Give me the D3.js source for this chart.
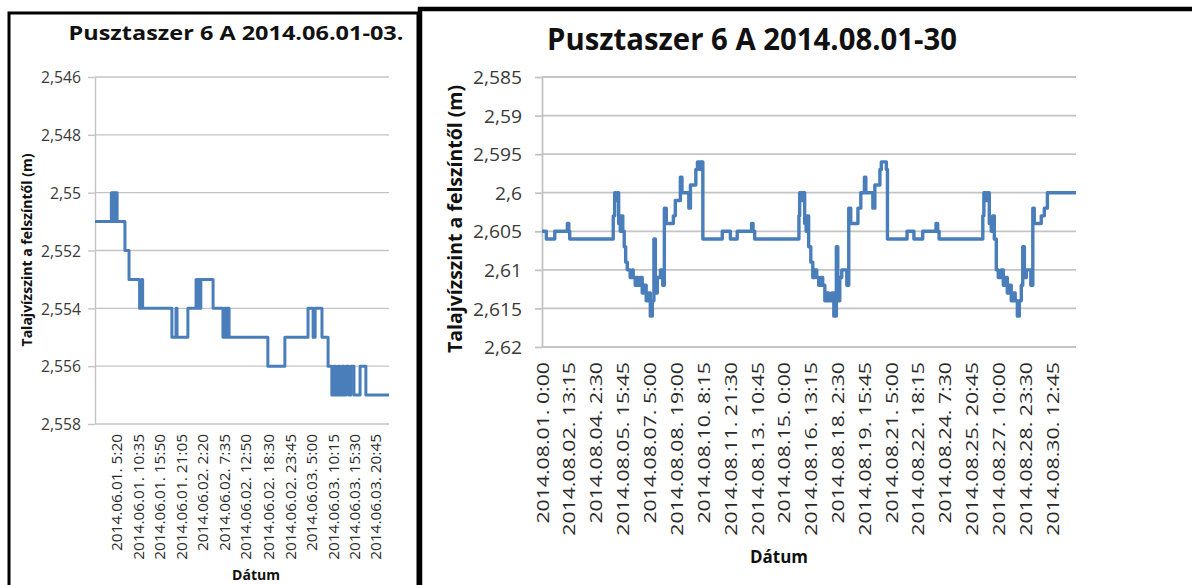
<!DOCTYPE html>
<html>
<head>
<meta charset="utf-8">
<script src="https://cdn.jsdelivr.net/npm/d3@7"></script>
<style>
  body { margin: 0; background: #fff; }
  svg { display: block; }
</style>
</head>
<body>
<svg id="chart" width="1192" height="585"></svg>
<script>
// ---- data -------------------------------------------------------------
const yTitle = "Talajvízszint a felszíntől (m)";
const xTitle = "Dátum";

// June (5 min logger, only the level changes are kept)
const juneTitle = "Pusztaszer 6 A 2014.06.01-03.";
const juneRange = ["2014.06.01 00:00", "2014.06.04 00:00"];
const juneTimes = [
  "2014.06.01 00:00", "2014.06.01 04:00", "2014.06.01 04:15", "2014.06.01 04:30", "2014.06.01 04:55",
  "2014.06.01 05:10", "2014.06.01 05:25", "2014.06.01 07:20", "2014.06.01 08:20", "2014.06.01 10:55",
  "2014.06.01 11:25", "2014.06.01 11:40", "2014.06.01 18:50", "2014.06.01 19:50", "2014.06.01 20:05",
  "2014.06.01 22:45", "2014.06.02 00:45", "2014.06.02 01:00", "2014.06.02 01:20", "2014.06.02 01:35",
  "2014.06.02 01:55", "2014.06.02 04:55", "2014.06.02 07:20", "2014.06.02 07:45", "2014.06.02 08:05",
  "2014.06.02 08:20", "2014.06.02 08:50", "2014.06.02 18:20", "2014.06.02 22:30", "2014.06.03 04:10",
  "2014.06.03 05:25", "2014.06.03 05:55", "2014.06.03 07:35", "2014.06.03 09:05", "2014.06.03 10:00",
  "2014.06.03 10:30", "2014.06.03 11:00", "2014.06.03 11:30", "2014.06.03 12:00", "2014.06.03 12:30",
  "2014.06.03 13:00", "2014.06.03 13:30", "2014.06.03 14:10", "2014.06.03 14:40", "2014.06.03 15:25",
  "2014.06.03 16:55", "2014.06.03 18:20", "2014.06.04 00:00"
];
const juneLevels = [
  2.551, 2.550, 2.551, 2.550, 2.551,
  2.550, 2.551, 2.552, 2.553, 2.554,
  2.553, 2.554, 2.555, 2.554, 2.555,
  2.554, 2.553, 2.554, 2.553, 2.554,
  2.553, 2.554, 2.555, 2.554, 2.555,
  2.554, 2.555, 2.556, 2.555, 2.554,
  2.555, 2.554, 2.555, 2.556, 2.557,
  2.556, 2.557, 2.556, 2.557, 2.556,
  2.557, 2.556, 2.557, 2.556, 2.557,
  2.556, 2.557, 2.557
];
const juneYTicks = [2.546, 2.548, 2.550, 2.552, 2.554, 2.556, 2.558];
const juneXLabels = [
  "2014.06.01. 5:20", "2014.06.01. 10:35", "2014.06.01. 15:50", "2014.06.01. 21:05",
  "2014.06.02. 2:20", "2014.06.02. 7:35", "2014.06.02. 12:50", "2014.06.02. 18:30",
  "2014.06.02. 23:45", "2014.06.03. 5:00", "2014.06.03. 10:15", "2014.06.03. 15:30",
  "2014.06.03. 20:45"
];

// August (15 min logger, level changes only)
const augTitle = "Pusztaszer 6 A 2014.08.01-30";
const augRange = ["2014.08.01 00:00", "2014.08.31 22:00"];
const augTimes = [
  "2014.08.01 00:00", "2014.08.01 06:00", "2014.08.01 17:45", "2014.08.02 11:15", "2014.08.02 13:15",
  "2014.08.02 14:30", "2014.08.05 03:00", "2014.08.05 05:00", "2014.08.05 07:00", "2014.08.05 08:30",
  "2014.08.05 10:30", "2014.08.05 12:45", "2014.08.05 14:00", "2014.08.05 16:15", "2014.08.05 18:15",
  "2014.08.05 20:15", "2014.08.05 22:30", "2014.08.06 02:30", "2014.08.06 05:30", "2014.08.06 06:45",
  "2014.08.06 09:30", "2014.08.06 11:00", "2014.08.06 13:45", "2014.08.06 16:30", "2014.08.06 19:15",
  "2014.08.06 22:00", "2014.08.07 00:45", "2014.08.07 03:45", "2014.08.07 06:30", "2014.08.07 09:15",
  "2014.08.07 11:30", "2014.08.07 13:30", "2014.08.07 16:15", "2014.08.07 20:30", "2014.08.07 23:45",
  "2014.08.08 02:00", "2014.08.08 04:45", "2014.08.08 14:30", "2014.08.08 17:15", "2014.08.09 00:15",
  "2014.08.09 02:30", "2014.08.09 12:00", "2014.08.09 14:15", "2014.08.09 21:45", "2014.08.10 00:00",
  "2014.08.10 04:00", "2014.08.10 05:30", "2014.08.10 07:30", "2014.08.11 10:30", "2014.08.11 21:45",
  "2014.08.12 07:15", "2014.08.13 03:15", "2014.08.13 05:15", "2014.08.13 07:30", "2014.08.15 21:00",
  "2014.08.15 22:00", "2014.08.16 01:00", "2014.08.16 03:00", "2014.08.16 05:00", "2014.08.16 07:00",
  "2014.08.16 08:30", "2014.08.16 10:30", "2014.08.16 13:30", "2014.08.16 16:15", "2014.08.16 19:00",
  "2014.08.16 21:45", "2014.08.17 00:30", "2014.08.17 03:15", "2014.08.17 06:00", "2014.08.17 09:00",
  "2014.08.17 11:45", "2014.08.17 14:30", "2014.08.17 18:45", "2014.08.17 21:30", "2014.08.18 01:00",
  "2014.08.18 03:00", "2014.08.18 05:45", "2014.08.18 08:30", "2014.08.18 15:30", "2014.08.18 18:15",
  "2014.08.18 21:00", "2014.08.19 07:00", "2014.08.19 11:00", "2014.08.19 16:00", "2014.08.19 18:00",
  "2014.08.20 03:45", "2014.08.20 06:30", "2014.08.20 13:30", "2014.08.20 15:30", "2014.08.20 22:30",
  "2014.08.21 00:00", "2014.08.22 03:15", "2014.08.22 12:45", "2014.08.23 01:00", "2014.08.23 19:30",
  "2014.08.23 21:45", "2014.08.23 23:45", "2014.08.26 12:30", "2014.08.26 14:00", "2014.08.26 17:15",
  "2014.08.26 19:30", "2014.08.26 21:30", "2014.08.27 00:15", "2014.08.27 02:15", "2014.08.27 04:30",
  "2014.08.27 07:15", "2014.08.27 10:00", "2014.08.27 14:00", "2014.08.27 17:00", "2014.08.27 19:45",
  "2014.08.27 22:30", "2014.08.28 01:15", "2014.08.28 04:00", "2014.08.28 06:45", "2014.08.28 09:30",
  "2014.08.28 12:30", "2014.08.28 15:15", "2014.08.28 18:00", "2014.08.28 20:00", "2014.08.28 22:15",
  "2014.08.29 01:00", "2014.08.29 07:15", "2014.08.29 10:00", "2014.08.29 12:00", "2014.08.29 21:45",
  "2014.08.30 02:00", "2014.08.30 06:15", "2014.08.31 22:00"
];
const augLevels = [
  2.605, 2.606, 2.605, 2.604, 2.605,
  2.606, 2.603, 2.600, 2.601, 2.600,
  2.604, 2.605, 2.603, 2.605, 2.607,
  2.609, 2.610, 2.611, 2.610, 2.611,
  2.612, 2.611, 2.612, 2.611, 2.613,
  2.612, 2.614, 2.613, 2.616, 2.614,
  2.606, 2.613, 2.611, 2.610, 2.612,
  2.602, 2.604, 2.603, 2.601, 2.598,
  2.600, 2.602, 2.599, 2.597, 2.596,
  2.597, 2.596, 2.606, 2.605, 2.606,
  2.605, 2.604, 2.605, 2.606, 2.603,
  2.600, 2.601, 2.600, 2.604, 2.605,
  2.603, 2.607, 2.609, 2.611, 2.610,
  2.611, 2.612, 2.611, 2.612, 2.614,
  2.613, 2.614, 2.613, 2.616, 2.607,
  2.614, 2.611, 2.610, 2.612, 2.602,
  2.604, 2.602, 2.600, 2.598, 2.600,
  2.602, 2.599, 2.597, 2.596, 2.597,
  2.606, 2.605, 2.606, 2.605, 2.604,
  2.605, 2.606, 2.603, 2.600, 2.601,
  2.600, 2.604, 2.605, 2.603, 2.606,
  2.610, 2.611, 2.610, 2.612, 2.611,
  2.613, 2.612, 2.614, 2.613, 2.614,
  2.616, 2.614, 2.612, 2.607, 2.611,
  2.610, 2.612, 2.602, 2.604, 2.603,
  2.602, 2.600, 2.600
];
const augYTicks = [2.585, 2.590, 2.595, 2.600, 2.605, 2.610, 2.615, 2.620];
const augXLabels = [
  "2014.08.01. 0:00", "2014.08.02. 13:15", "2014.08.04. 2:30", "2014.08.05. 15:45",
  "2014.08.07. 5:00", "2014.08.08. 19:00", "2014.08.10. 8:15", "2014.08.11. 21:30",
  "2014.08.13. 10:45", "2014.08.15. 0:00", "2014.08.16. 13:15", "2014.08.18. 2:30",
  "2014.08.19. 15:45", "2014.08.21. 5:00", "2014.08.22. 18:15", "2014.08.24. 7:30",
  "2014.08.25. 20:45", "2014.08.27. 10:00", "2014.08.28. 23:30", "2014.08.30. 12:45"
];

// ---- drawing ----------------------------------------------------------
const FONT = "'Open Sans', 'DejaVu Sans', sans-serif";
const CAP = 0.714;          // cap height / em for Open Sans
const parseTime = d3.timeParse("%Y.%m.%d %H:%M");
const parseLabel = d3.timeParse("%Y.%m.%d. %H:%M");
const fmt = d => String(+d.toFixed(3)).replace(".", ",");

const svg = d3.select("#chart");

function measure(str, size, weight) {
  const t = svg.append("text")
    .attr("font-family", FONT).attr("font-size", size).attr("font-weight", weight)
    .text(str);
  const w = t.node().getComputedTextLength();
  t.remove();
  return w;
}

// font size from the glyph height, then stretched along the baseline
// so the text covers the same length as in the picture (Calibri is narrow)
function fit(spec, weight) {
  const size = spec.cap / CAP;
  const k = spec.len / measure(spec.ref || spec.str, size, weight);
  return {size, k};
}

function label(g, str, spec, weight, fill, rot) {
  const f = fit(Object.assign({str}, spec), weight);
  g.append("text")
    .attr("transform", `translate(${spec.x},${spec.y}) rotate(${rot || 0}) scale(${f.k},1)`)
    .attr("text-anchor", "middle")
    .attr("font-family", FONT)
    .attr("font-size", f.size)
    .attr("font-weight", weight)
    .attr("fill", fill)
    .text(str);
}

function drawChart(c) {
  const g = svg.append("g");
  const p = c.plot;

  const x = d3.scaleTime()
    .domain(c.range.map(parseTime))
    .range([p.l, p.r]);
  const y = d3.scaleLinear()
    .domain([c.yTicks[0], c.yTicks[c.yTicks.length - 1]])
    .range([p.t, p.b]);

  // horizontal gridlines
  g.append("g").selectAll("line")
    .data(c.yTicks)
    .join("line")
      .attr("x1", p.l).attr("x2", p.r)
      .attr("y1", d => y(d)).attr("y2", d => y(d))
      .attr("stroke", "#c4c4c4")
      .attr("stroke-width", c.gridW);

  // y axis
  const yf = fit(c.yTick, 400);
  const yAxis = g.append("g")
    .attr("transform", `translate(${p.l},0)`)
    .call(d3.axisLeft(y).tickValues(c.yTicks).tickFormat(fmt).tickSize(7).tickSizeOuter(0));
  yAxis.select(".domain").attr("stroke", "#c4c4c4").attr("stroke-width", c.gridW);
  yAxis.selectAll(".tick line").attr("stroke", "#c4c4c4").attr("stroke-width", c.gridW);
  yAxis.selectAll(".tick text")
    .attr("x", 0)
    .attr("dy", "0.36em")
    .attr("transform", `translate(${-c.yTick.pad},0) scale(${yf.k},1)`)
    .attr("font-family", FONT)
    .attr("font-size", yf.size)
    .attr("fill", "#3a3a3a");

  // x axis: category labels, rotated
  const xf = fit(c.xTick, 400);
  const xAxis = g.append("g")
    .attr("transform", `translate(0,${p.b})`)
    .call(d3.axisBottom(x)
      .tickValues(c.xLabels.map(parseLabel))
      .tickFormat((d, i) => c.xLabels[i])
      .tickSize(0));
  xAxis.select(".domain").remove();
  xAxis.selectAll(".tick text")
    .attr("x", 0).attr("y", 0).attr("dy", null)
    .attr("text-anchor", "end")
    .attr("transform", `translate(${c.xTick.cap / 2},${c.xTick.gap}) rotate(-90) scale(${xf.k},1)`)
    .attr("font-family", FONT)
    .attr("font-size", xf.size)
    .attr("fill", "#2a2a2a");

  // series
  const pts = c.times.map((t, i) => ({t: parseTime(t), v: c.levels[i]}));
  g.append("path")
    .datum(pts)
    .attr("fill", "none")
    .attr("stroke", "#4a7ebb")
    .attr("stroke-width", c.lineW)
    .attr("stroke-linejoin", "round")
    .attr("d", d3.line().x(d => x(d.t)).y(d => y(d.v)).curve(d3.curveStepAfter));

  // titles
  label(g, c.title, c.titleSpec, 700, "#111");
  label(g, yTitle, c.yTitleSpec, 700, "#111", -90);
  label(g, xTitle, c.xTitleSpec, 700, "#111");
}

// panel frames
svg.append("rect")
  .attr("x", 9).attr("y", 13).attr("width", 409).attr("height", 620)
  .attr("fill", "#fff").attr("stroke", "#000").attr("stroke-width", 3);
svg.append("rect")
  .attr("x", 420).attr("y", 9).attr("width", 800).attr("height", 620)
  .attr("fill", "#fff").attr("stroke", "#000").attr("stroke-width", 4.5);

drawChart({
  title: juneTitle, range: juneRange, times: juneTimes, levels: juneLevels,
  yTicks: juneYTicks, xLabels: juneXLabels,
  plot: {l: 95, r: 389, t: 77, b: 424},
  gridW: 1.4, lineW: 3,
  titleSpec: {x: 236, y: 40, cap: 14.5, len: 335},
  yTick: {cap: 11.5, len: 40, ref: "2,546", pad: 14},
  yTitleSpec: {x: 31.5, y: 250, cap: 10, len: 193},
  xTick: {cap: 10.3, len: 117, ref: "2014.06.01. 5:20", gap: 10},
  xTitleSpec: {x: 256, y: 580, cap: 10.5, len: 48}
});

drawChart({
  title: augTitle, range: augRange, times: augTimes, levels: augLevels,
  yTicks: augYTicks, xLabels: augXLabels,
  plot: {l: 542, r: 1076, t: 77, b: 347},
  gridW: 1.8, lineW: 3.4,
  titleSpec: {x: 752, y: 50, cap: 21.5, len: 410},
  yTick: {cap: 13.3, len: 49, ref: "2,585", pad: 20},
  yTitleSpec: {x: 462, y: 219, cap: 14, len: 268},
  xTick: {cap: 12, len: 161.7, ref: "2014.08.01. 0:00", gap: 15},
  xTitleSpec: {x: 779, y: 563, cap: 13, len: 58}
});
</script>
</body>
</html>
